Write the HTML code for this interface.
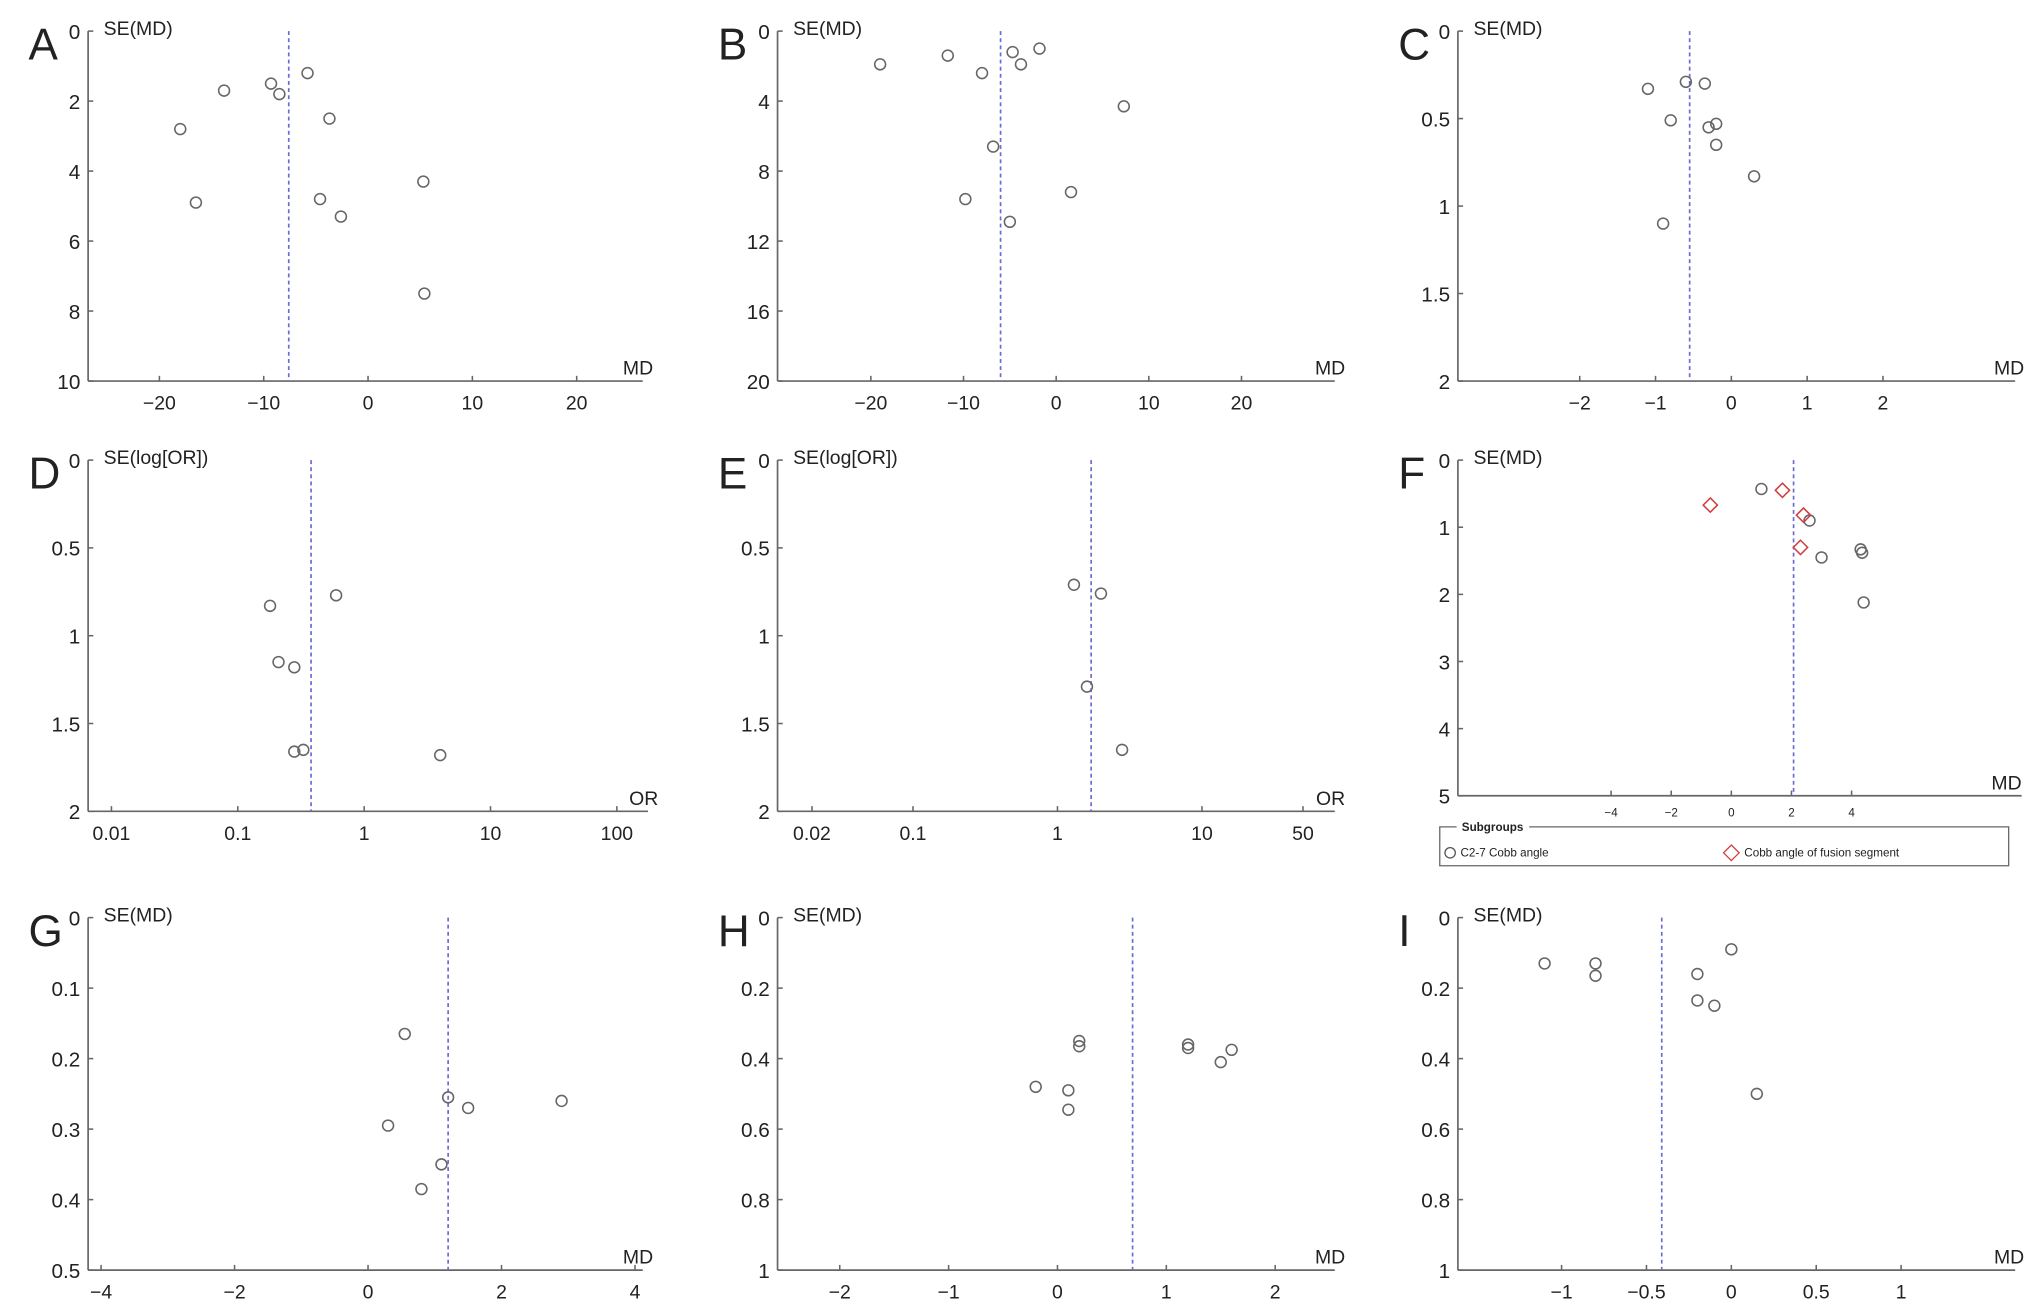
<!DOCTYPE html>
<html><head><meta charset="utf-8"><style>
html,body{margin:0;padding:0;background:#fff;}
svg{display:block;}
text{font-family:"Liberation Sans",Arial,sans-serif;fill:#222;}
</style></head><body>
<svg id="fig" width="2032" height="1309" viewBox="0 0 1568 1010" preserveAspectRatio="none" xmlns="http://www.w3.org/2000/svg"></svg>
<script>
// Panel A
const aMD=[-18,-16.5,-13.8,-9.3,-8.5,-5.8,-3.7,-4.6,-2.6,5.3,5.4];
const aSE=[2.8,4.9,1.7,1.5,1.8,1.2,2.5,4.8,5.3,4.3,7.5];
const aPooled=-7.6;
const aXTicks=[-20,-10,0,10,20];
const aYTicks=[0,2,4,6,8,10];
// Panel B
const bMD=[-19,-11.7,-8,-4.7,-3.8,-1.8,7.3,-6.8,-9.8,1.6,-5];
const bSE=[1.9,1.4,2.4,1.2,1.9,1.0,4.3,6.6,9.6,9.2,10.9];
const bPooled=-6;
const bXTicks=[-20,-10,0,10,20];
const bYTicks=[0,4,8,12,16,20];
// Panel C
const cMD=[-1.1,-0.6,-0.35,-0.8,-0.3,-0.2,-0.2,0.3,-0.9];
const cSE=[0.33,0.29,0.3,0.51,0.55,0.53,0.65,0.83,1.1];
const cPooled=-0.55;
const cXTicks=[-2,-1,0,1,2];
const cYTicks=[0,0.5,1,1.5,2];
// Panel D
const dOR=[0.18,0.6,0.21,0.28,0.28,0.33,4];
const dSE=[0.83,0.77,1.15,1.18,1.66,1.65,1.68];
const dPooled=0.38;
const dXTicks=[0.01,0.1,1,10,100];
const dYTicks=[0,0.5,1,1.5,2];
// Panel E
const eOR=[1.3,2.0,1.6,2.8];
const eSE=[0.71,0.76,1.29,1.65];
const ePooled=1.71;
const eXTicks=[0.02,0.1,1,10,50];
const eYTicks=[0,0.5,1,1.5,2];
// Panel F
const fCircMD=[1,2.6,3,4.3,4.35,4.4];
const fCircSE=[0.43,0.9,1.45,1.33,1.38,2.12];
const fDiaMD=[-0.7,1.7,2.4,2.3];
const fDiaSE=[0.67,0.45,0.82,1.3];
const fPooled=2.07;
const fXTicks=[-4,-2,0,2,4];
const fYTicks=[0,1,2,3,4,5];
// Panel G
const gMD=[0.55,1.2,1.5,2.9,0.3,1.1,0.8];
const gSE=[0.165,0.255,0.27,0.26,0.295,0.35,0.385];
const gPooled=1.2;
const gXTicks=[-4,-2,0,2,4];
const gYTicks=[0,0.1,0.2,0.3,0.4,0.5];
// Panel H
const hMD=[0.2,0.2,1.2,1.2,1.6,1.5,-0.2,0.1,0.1];
const hSE=[0.35,0.365,0.36,0.37,0.375,0.41,0.48,0.49,0.545];
const hPooled=0.69;
const hXTicks=[-2,-1,0,1,2];
const hYTicks=[0,0.2,0.4,0.6,0.8,1];
// Panel I
const iMD=[-1.1,-0.8,-0.8,-0.2,-0.2,-0.1,0,0.15];
const iSE=[0.13,0.13,0.165,0.16,0.235,0.25,0.09,0.5];
const iPooled=-0.41;
const iXTicks=[-1,-0.5,0,0.5,1];
const iYTicks=[0,0.2,0.4,0.6,0.8,1];

const NS="http://www.w3.org/2000/svg";
const svg=document.getElementById('fig');
function el(tag,attrs,parent){const e=document.createElementNS(NS,tag);for(const k in attrs)e.setAttribute(k,attrs[k]);(parent||svg).appendChild(e);return e;}
function txt(s,attrs,parent){const t=el('text',attrs,parent);t.textContent=s;return t;}

function panel(cfg){
  const g=el('g',{});
  
  
  const log=cfg.log;
  const xs=v=>{const t=log?Math.log10(v):v;return cfg.x0+(t-cfg.xa)*cfg.xk;};
  const ys=v=>cfg.yTop+(v-cfg.yMin)/(cfg.yMax-cfg.yMin)*(cfg.yBot-cfg.yTop);
  const L=txt(cfg.letter,{x:cfg.ax-46,y:cfg.yTop+22,'font-size':34},g);
  
  
  const ya=el('line',{x1:cfg.ax,y1:cfg.yTop,x2:cfg.ax,y2:cfg.yBot,stroke:'#666','stroke-width':1.3},g);
  
  
  const xa=el('line',{x1:cfg.ax,y1:cfg.yBot,x2:cfg.axEnd,y2:cfg.yBot,stroke:'#666','stroke-width':1.3},g);
  
  
  cfg.yTicks.forEach(v=>{
    const y=ys(v);
    el('line',{x1:cfg.ax,y1:y,x2:cfg.ax+4,y2:y,stroke:'#666','stroke-width':1.2},g);
    const t=txt(String(v),{x:cfg.ax-6,y:y+6,'font-size':cfg.yfs||16,'text-anchor':'end'},g);
    
    
  });
  cfg.xTicks.forEach(v=>{
    const x=xs(v);
    el('line',{x1:x,y1:cfg.yBot,x2:x,y2:cfg.yBot-4,stroke:'#666','stroke-width':1.2},g);
    const t=txt(String(v).replace('-','\u2212'),{x:x,y:cfg.yBot+(cfg.xfs?16:22),'font-size':cfg.xfs||15,'text-anchor':'middle'},g);
    
    
  });
  const yt=txt(cfg.ylab,{x:cfg.ax+12,y:cfg.yTop+3,'font-size':15},g);
  
  
  const xt=txt(cfg.xlab,{x:cfg.xlabX||(cfg.axEnd+8),y:cfg.yBot-5,'font-size':15,'text-anchor':'end'},g);
  
  
  const px=xs(cfg.pooled);
  const pl=el('line',{x1:px,y1:cfg.yTop,x2:px,y2:cfg.yBot,stroke:'#6a6ad8','stroke-width':1.3,'stroke-dasharray':'3,2.5'},g);
  
  
  cfg.series.forEach(s=>{
    s.x.forEach((v,i)=>{
      const cx=xs(v),cy=ys(s.y[i]);
      let m;
      if(s.shape==='diamond'){
        m=el('polygon',{points:`${cx},${cy-5.5} ${cx+5.5},${cy} ${cx},${cy+5.5} ${cx-5.5},${cy}`,fill:'none',stroke:'#d04040','stroke-width':1.2},g);
        
      } else {
        m=el('circle',{cx:cx,cy:cy,r:4.2,fill:'none',stroke:'#666','stroke-width':1.2},g);
        
      }
      
    });
  });
  return g;
}

panel({letter:'A',ax:68,axEnd:496,yTop:24,yBot:294,yMin:0,yMax:10,x0:284,xa:0,xk:8.05,xTicks:aXTicks,yTicks:aYTicks,ylab:'SE(MD)',xlab:'MD',pooled:aPooled,series:[{x:aMD,y:aSE}]});
panel({letter:'B',ax:600,axEnd:1030,yTop:24,yBot:294,yMin:0,yMax:20,x0:815,xa:0,xk:7.15,xTicks:bXTicks,yTicks:bYTicks,ylab:'SE(MD)',xlab:'MD',pooled:bPooled,series:[{x:bMD,y:bSE}]});
panel({letter:'C',ax:1125,axEnd:1555,yTop:24,yBot:294,yMin:0,yMax:2,x0:1336,xa:0,xk:58.5,xTicks:cXTicks,yTicks:cYTicks,ylab:'SE(MD)',xlab:'MD',xlabX:1562,pooled:cPooled,series:[{x:cMD,y:cSE}]});
panel({letter:'D',ax:68,axEnd:500,yTop:355,yBot:626,yMin:0,yMax:2,x0:281,xa:0,xk:97.5,log:true,xTicks:dXTicks,yTicks:dYTicks,ylab:'SE(log[OR])',xlab:'OR',pooled:dPooled,series:[{x:dOR,y:dSE}]});
panel({letter:'E',ax:600,axEnd:1030,yTop:355,yBot:626,yMin:0,yMax:2,x0:816,xa:0,xk:111.5,log:true,xTicks:eXTicks,yTicks:eYTicks,ylab:'SE(log[OR])',xlab:'OR',pooled:ePooled,series:[{x:eOR,y:eSE}]});
panel({letter:'F',ax:1125,axEnd:1560,yTop:355,yBot:614,yMin:0,yMax:5,x0:1336,xa:0,xk:23.2,xfs:9,xTicks:fXTicks,yTicks:fYTicks,ylab:'SE(MD)',xlab:'MD',xlabX:1560,pooled:fPooled,series:[{x:fCircMD,y:fCircSE},{x:fDiaMD,y:fDiaSE,shape:'diamond'}]});
panel({letter:'G',ax:68,axEnd:496,yTop:708,yBot:980,yMin:0,yMax:0.5,x0:284,xa:0,xk:51.5,xTicks:gXTicks,yTicks:gYTicks,ylab:'SE(MD)',xlab:'MD',pooled:gPooled,series:[{x:gMD,y:gSE}]});
panel({letter:'H',ax:600,axEnd:1030,yTop:708,yBot:980,yMin:0,yMax:1,x0:816,xa:0,xk:84,xTicks:hXTicks,yTicks:hYTicks,ylab:'SE(MD)',xlab:'MD',pooled:hPooled,series:[{x:hMD,y:hSE}]});
panel({letter:'I',ax:1125,axEnd:1555,yTop:708,yBot:980,yMin:0,yMax:1,x0:1336,xa:0,xk:131,xTicks:iXTicks,yTicks:iYTicks,ylab:'SE(MD)',xlab:'MD',xlabX:1562,pooled:iPooled,series:[{x:iMD,y:iSE}]});

// Legend for F
const lg=el('g',{});


el('path',{d:'M1124,638 L1111,638 L1111,668 L1550,668 L1550,638 L1180,638',fill:'none',stroke:'#666','stroke-width':1},lg);
txt('Subgroups',{x:1128,y:641,'font-size':9,'font-weight':'bold'},lg);
el('circle',{cx:1119,cy:658,r:4,fill:'none',stroke:'#555','stroke-width':1},lg);
const l1=txt('C2-7 Cobb angle',{x:1127,y:661,'font-size':9},lg);


el('polygon',{points:'1336,652 1342,658 1336,664 1330,658',fill:'none',stroke:'#d04040','stroke-width':1},lg);
const l2=txt('Cobb angle of fusion segment',{x:1346,y:661,'font-size':9},lg);


</script>
</body></html>
